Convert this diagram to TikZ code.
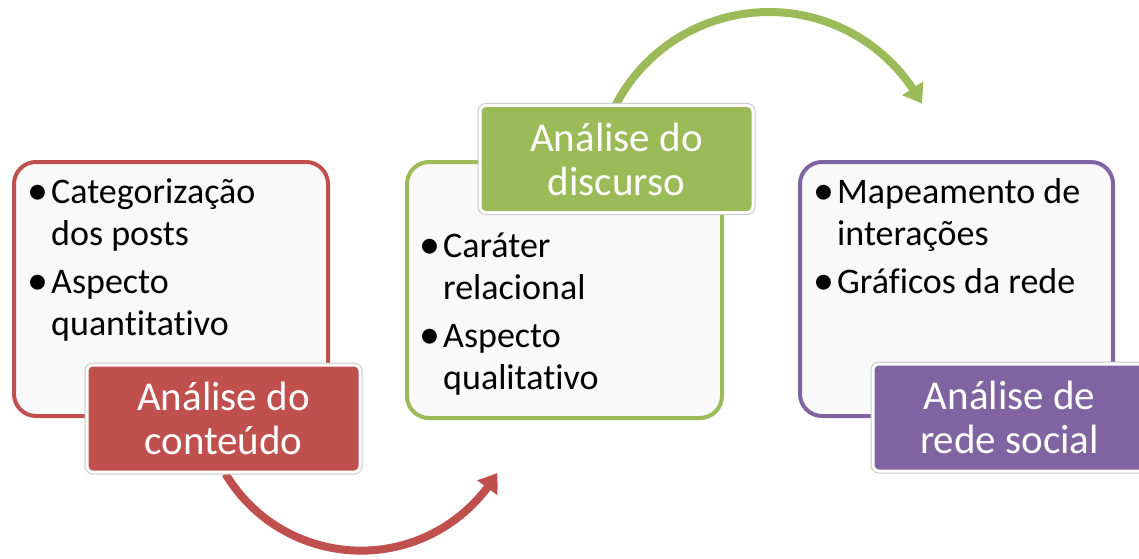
\documentclass[tikz,border=0pt]{standalone}
\usepackage{fontspec}
\setmainfont[Ligatures=NoCommon]{Carlito}
\usetikzlibrary{arrows.meta,bending}
\definecolor{cred}{HTML}{C0504D}
\definecolor{cgreen}{HTML}{9BBB59}
\definecolor{cpurple}{HTML}{8064A2}
\definecolor{boxfill}{HTML}{F9F9F9}
\tikzset{
  x=1pt,y=1pt,
  panel/.style={draw=#1, line width=4pt, fill=boxfill, rounded corners=22pt, inner sep=0pt},
  tag/.style={fill=#1, draw=white, line width=3pt, rounded corners=6pt,
    preaction={draw=black!22, line width=5pt},
    text=white, align=center, inner sep=0pt,
    minimum width=273pt, minimum height=107pt,
    font=\fontsize{41}{44}\selectfont},
  items/.style={anchor=base west, inner sep=0pt, font=\fontsize{36}{42}\selectfont},
  flow/.style={draw=#1, line width=8pt,
    -{Triangle[width=24pt,length=18pt,bend]}},
}
\newcommand{\bul}{\makebox[22pt][l]{\hspace{-1.5pt}\raisebox{-1.8pt}{\fontsize{42}{42}\selectfont\textbullet}}}
\newcommand{\bulletlist}[1]{\begin{tabular}[t]{@{}l@{}l@{}}#1\end{tabular}}
\begin{document}
\begin{tikzpicture}
\useasboundingbox (0,0) rectangle (1139,558);
\clip (0,0) rectangle (1139,558);
% panels
\node[panel=cred, minimum width=314pt, minimum height=254pt] (p1) at (171,269) {};
\node[panel=cgreen, minimum width=315pt, minimum height=256pt] (p2) at (564.5,268) {};
\node[panel=cpurple, minimum width=313pt, minimum height=254pt] (p3) at (956.5,269) {};
% bullet texts
\node[items] (t1) at (29,355) {\bulletlist{\bul & Categorização\\ & dos posts\\[6pt] \bul & Aspecto\\ & quantitativo}};
\node[items] (t2) at (421,301) {\bulletlist{\bul & Caráter\\ & relacional\\[6pt] \bul & Aspecto\\ & qualitativo}};
\node[items] (t3) at (815,355) {\bulletlist{\bul & Mapeamento de\\ & interações\\[6pt] \bul & Gráficos da rede}};
% arrows
\coordinate (r0) at (225.6,84);
\coordinate (g0) at (614.9,451.5);
\draw[flow=cred] (r0) arc[start angle=211, end angle=329.5, radius=158];
\draw[flow=cgreen] (g0) arc[start angle=153, end angle=28, radius=173];
% labels
\node[tag=cred] (l1) at (223.5,139.5) {Análise do\\conteúdo};
\node[tag=cgreen] (l2) at (616.5,399) {Análise do\\discurso};
\node[tag=cpurple] (l3) at (1009.5,140.5) {Análise de\\rede social};
\end{tikzpicture}
\end{document}
